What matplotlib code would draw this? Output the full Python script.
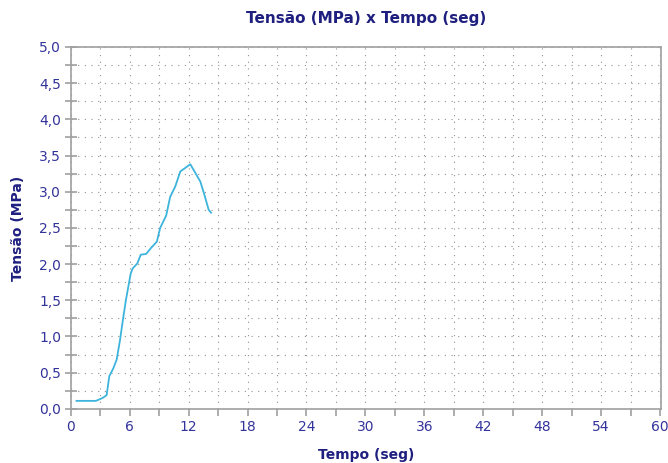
import matplotlib
matplotlib.use("Agg")
import matplotlib.pyplot as plt
from matplotlib.ticker import MultipleLocator, FuncFormatter

# curve
tempo = [0.58, 2.56, 3.24, 3.65, 3.92, 4.33, 4.67, 5.01, 5.35, 5.62, 5.86, 6.1,
         6.3, 6.78, 7.12, 7.67, 8.15, 8.76, 9.1, 9.71, 10.12, 10.63, 11.15,
         12.17, 13.19, 13.6, 14.04, 14.28]
tensao = [0.11, 0.11, 0.15, 0.19, 0.45, 0.56, 0.68, 0.95, 1.27, 1.51, 1.69, 1.87,
          1.94, 2.01, 2.13, 2.14, 2.22, 2.31, 2.5, 2.67, 2.93, 3.07, 3.28,
          3.38, 3.14, 2.96, 2.75, 2.71]

titulo = "Tensão (MPa) x Tempo (seg)"
rotulo_x = "Tempo (seg)"
rotulo_y = "Tensão (MPa)"

azul_txt = "#33339c"
azul_tit = "#1f1f80"
cinza = "#a0a0a0"

fig = plt.figure(figsize=(6.68, 4.63), dpi=100)
ax = fig.add_axes([0.106, 0.117, 0.8835, 0.7815])

ax.plot(tempo, tensao, color="#3cb4dc", lw=1.3)

ax.set_xlim(0, 60.1)
ax.set_ylim(0, 5.0)
ax.xaxis.set_major_locator(MultipleLocator(6))
ax.xaxis.set_minor_locator(MultipleLocator(3))
ax.yaxis.set_major_locator(MultipleLocator(0.5))
ax.yaxis.set_minor_locator(MultipleLocator(0.25))
ax.yaxis.set_major_formatter(FuncFormatter(lambda v, p: f"{v:.1f}".replace(".", ",")))
ax.xaxis.set_major_formatter(FuncFormatter(lambda v, p: f"{v:.0f}"))

ax.grid(which="both", color="#909090", linestyle=(0, (1, 5)), lw=0.8)

for s in ax.spines.values():
    s.set_color(cinza)
    s.set_linewidth(1.2)

ax.tick_params(which="both", colors=cinza, labelcolor=azul_txt, labelsize=10,
               width=1.2)
ax.tick_params(axis="x", which="both", direction="out", length=5, pad=3)
ax.tick_params(axis="y", which="both", direction="inout", length=8, pad=3)
for t in ax.get_xticklabels() + ax.get_yticklabels():
    t.set_family("DejaVu Sans")

ax.set_title(titulo, color=azul_tit, fontsize=11, fontweight="bold",
             family="DejaVu Sans", pad=17)
ax.set_xlabel(rotulo_x, color=azul_tit, fontsize=10, fontweight="bold",
              family="DejaVu Sans", labelpad=10)
ax.set_ylabel(rotulo_y, color=azul_tit, fontsize=10, fontweight="bold",
              family="DejaVu Sans", labelpad=10)

fig.savefig("out.png", dpi=100)
